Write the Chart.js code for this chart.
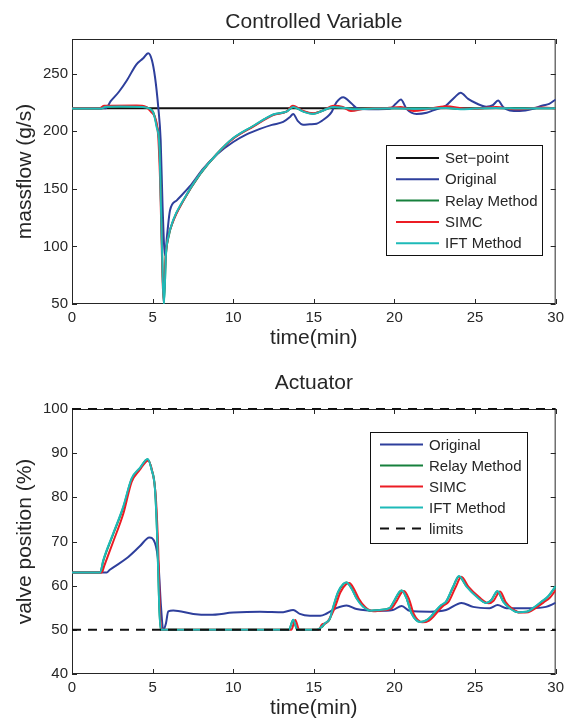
<!DOCTYPE html>
<html>
<head>
<meta charset="utf-8">
<script src="https://cdn.jsdelivr.net/npm/chart.js@4.4.1/dist/chart.umd.min.js"></script>
<style>
  html, body { margin: 0; padding: 0; background: #fff; }
  canvas { display: block; }
</style>
</head>
<body>
<canvas id="cv" width="569" height="360"></canvas>
<canvas id="mv" width="569" height="359"></canvas>
<script>
// ---- data (time in minutes) ----
const xTicks = [0, 5, 10, 15, 20, 25, 30];
const yTicksCV = [50, 100, 150, 200, 250];
const yTicksMV = [40, 50, 60, 70, 80, 90, 100];

// Controlled variable (massflow, g/s)
const tSetCV = [0, 30];
const setPointCV = [220, 220];

const tOrigCV = [0, 2.1, 2.4, 2.9, 3.4, 4.0, 4.4, 4.73, 4.95, 5.15, 5.35, 5.5, 5.62, 5.77, 5.9, 6.08, 6.5, 7.3, 8.14, 9.0, 10.0, 10.8, 11.66, 12.4, 13.1, 13.5, 13.72, 14.0, 14.34, 14.75, 15.17, 15.5, 15.8, 16.1, 16.4, 16.82, 17.34, 17.75, 18.7, 19.7, 20.1, 20.4, 20.75, 21.37, 22.0, 22.4, 23.2, 23.74, 24.1, 24.57, 25.1, 25.7, 26.1, 26.43, 26.74, 27.15, 27.77, 28.6, 29.2, 29.6, 30];
const origCV = [220, 220, 226, 234, 244, 258, 263, 267.6, 262, 246.8, 220.8, 192, 134, 92, 110, 131.4, 140, 152, 167.5, 180, 190.6, 197, 202, 205.5, 208, 212, 215, 209, 205.6, 206, 206.5, 209, 212, 216.5, 225, 229.5, 224, 219.4, 219, 219.4, 224, 227.5, 219.4, 215, 216, 218, 222.3, 229.5, 233.3, 228, 224, 221.3, 222.5, 226.6, 221, 218, 217.5, 219.4, 222.3, 223.7, 227.5];

const tIftCV = [0, 1.8, 2.1, 3.0, 4.4, 4.8, 5.04, 5.25, 5.42, 5.52, 5.62, 5.7, 5.83, 5.97, 6.28, 6.9, 7.94, 8.97, 10.0, 11.24, 12.48, 13.3, 13.72, 14.34, 14.96, 15.58, 16.2, 16.8, 17.6, 18.5, 20.0, 21.0, 22.0, 23.2, 24.1, 25.0, 26.3, 28.0, 29.2, 30];
const iftCV = [219.6, 219.6, 221.3, 221.5, 221, 219.5, 216, 203.5, 186, 134, 76, 49, 94, 108, 123, 140, 163, 180, 194, 204.5, 214.5, 217, 221, 217, 215, 218, 221, 220.4, 219, 219.5, 220, 219.5, 219.5, 220.2, 219, 219.6, 220.2, 219.6, 220, 220];
const relayCV = [219.6, 219.6, 221.2, 221.4, 221, 219.6, 216.5, 205, 188, 138, 78, 51, 93, 107, 122.5, 139.5, 162.5, 180, 193.8, 204.3, 214.3, 217, 220.8, 217.2, 215.2, 218, 220.8, 220.2, 219.2, 219.6, 220, 219.6, 219.6, 220.3, 219.2, 219.7, 220.1, 219.7, 220, 220];

const tSimcCV = [0, 1.7, 2.0, 4.0, 4.6, 4.95, 5.15, 5.35, 5.48, 5.6, 5.68, 5.8, 5.95, 6.28, 6.9, 7.94, 8.97, 10.0, 11.24, 12.48, 13.3, 13.7, 14.34, 14.96, 15.58, 16.2, 16.8, 17.3, 18.2, 19.5, 20.4, 21.2, 22.0, 23.2, 24.5, 25.5, 26.3, 27.5, 29.2, 30];
const simcCV = [220, 220, 222, 222.2, 221, 216, 212, 195, 150, 80, 52, 90, 107, 122, 139.5, 163, 180, 193.5, 204, 214, 217, 222, 217.5, 215.5, 218, 222, 221, 217.5, 219.5, 220, 221, 217.5, 219, 221.7, 219.5, 220, 221, 219, 220.5, 220];

// Actuator (valve position, %)
const tOrigMV = [0, 2.15, 2.35, 3.39, 4.2, 4.8, 5.15, 5.36, 5.52, 5.66, 5.83, 5.97, 6.28, 7.52, 8.55, 10.0, 11.66, 13.1, 13.72, 14.13, 14.75, 15.4, 15.8, 16.4, 17.03, 17.65, 18.9, 19.9, 20.45, 20.95, 22.2, 23.2, 24.16, 24.88, 25.9, 26.4, 26.95, 28.4, 29.4, 30];
const origMV = [63, 63, 63.6, 66.2, 68.9, 70.9, 69.6, 65.1, 55.3, 50, 51.5, 54.2, 54.4, 53.6, 53.4, 53.9, 54.1, 54, 54.5, 53.6, 53.2, 53.2, 53.7, 54.9, 55.5, 54.7, 54.3, 54.5, 55.4, 54.3, 54.1, 54.5, 56.1, 55.2, 54.9, 55.6, 54.9, 54.9, 55.2, 56.1];

const tIftMV = [0, 1.75, 1.94, 2.56, 3.18, 3.7, 4.2, 4.69, 4.94, 5.15, 5.29, 5.41, 5.5, 13.45, 13.72, 13.98, 15.17, 15.48, 15.69, 16.0, 16.2, 16.5, 16.82, 17.03, 17.34, 17.65, 18.06, 18.58, 19.1, 19.7, 20.0, 20.3, 20.45, 20.75, 21.06, 21.6, 22.0, 22.3, 22.6, 22.9, 23.2, 23.64, 24.0, 24.47, 25.1, 25.7, 26.0, 26.39, 26.74, 27.15, 27.67, 28.2, 28.7, 29.12, 29.5, 30];
const iftMV = [63, 63, 65.8, 71.9, 77.9, 84.3, 86.6, 88.7, 86.2, 81.7, 70.4, 55.3, 50, 50, 52.3, 50, 50, 50.7, 51.5, 52.6, 55.2, 58.6, 60.4, 60.7, 59.3, 57.1, 55.2, 54.3, 54.5, 54.9, 56.7, 58.6, 58.9, 57.1, 53.7, 51.8, 52.2, 53.2, 54.5, 55.6, 56.4, 59.8, 62.2, 59.8, 57.5, 56.1, 56.7, 58.8, 56.4, 54.9, 54.0, 54.1, 55.2, 56.4, 57.5, 59.9];
const relayMV = [63, 63, 65.6, 71.7, 77.7, 84.1, 86.5, 88.6, 86.3, 81.9, 70.8, 55.6, 50, 50, 52.2, 50, 50, 50.6, 51.4, 52.5, 55.0, 58.4, 60.3, 60.7, 59.4, 57.2, 55.3, 54.3, 54.5, 54.9, 56.6, 58.5, 58.9, 57.2, 53.8, 51.8, 52.2, 53.1, 54.4, 55.5, 56.3, 59.7, 62.1, 59.9, 57.6, 56.1, 56.7, 58.7, 56.5, 55.0, 54.0, 54.1, 55.1, 56.3, 57.4, 59.8];

const tSimcMV = [0, 1.85, 2.0, 2.56, 3.2, 3.7, 4.2, 4.72, 4.97, 5.2, 5.35, 5.45, 5.53, 13.6, 13.85, 14.1, 15.3, 15.5, 15.75, 15.95, 16.3, 16.65, 17.0, 17.2, 17.5, 17.8, 18.2, 18.7, 19.2, 19.8, 20.15, 20.45, 20.6, 20.9, 21.2, 21.75, 22.15, 22.45, 22.75, 23.05, 23.35, 23.8, 24.15, 24.6, 25.25, 25.85, 26.15, 26.55, 26.9, 27.3, 27.8, 28.3, 28.8, 29.25, 29.65, 30];
const simcMV = [63, 63, 64.5, 70, 76.5, 83.5, 86.2, 88.3, 86, 80, 68, 55, 50, 50, 52.2, 50, 50, 51.2, 51.5, 52.4, 55.0, 58.5, 60.3, 60.6, 59.2, 57.0, 55.1, 54.2, 54.4, 54.8, 56.6, 58.5, 58.8, 57.0, 53.6, 51.7, 52.1, 53.1, 54.4, 55.5, 56.3, 59.7, 62.0, 59.7, 57.4, 56.0, 56.6, 58.7, 56.3, 54.8, 53.9, 54.0, 55.0, 56.2, 57.3, 59.0];

const tLimits = [0, 30];
const lowLimit = [50, 50];
const highLimit = [100, 100];

// ---- styling ----
const FONT = '"Liberation Sans", Arial, Helvetica, sans-serif';
const INK = '#262626';
const C_BLACK = '#111111';
const C_BLUE = '#2e3f9c';
const C_GREEN = '#16803c';
const C_RED = '#ec1c24';
const C_CYAN = '#1ebab8';

Chart.defaults.font.family = FONT;
Chart.defaults.color = INK;

function serie(label, t, v, color, order, dash) {
  return {
    label,
    data: t.map((x, i) => ({ x, y: v[i] })),
    borderColor: color,
    backgroundColor: color,
    borderWidth: 2,
    borderDash: dash || [],
    pointRadius: 0,
    cubicInterpolationMode: 'monotone',
    fill: false,
    clip: dash ? 3 : undefined, // dashed limit lines sit on the box edge, don't cut them in half
    order
  };
}

// MATLAB look: box with inward ticks under the lines, title above axes, legend box inside axes
const matlabBox = {
  id: 'matlabBox',
  beforeDatasetsDraw(chart) {
    const { ctx, chartArea: a, scales: { x, y } } = chart;
    ctx.save();
    ctx.strokeStyle = INK;
    ctx.lineWidth = 1;
    ctx.strokeRect(a.left + 0.5, a.top + 0.5, a.right - a.left - 1, a.bottom - a.top - 1);
    ctx.beginPath();
    x.ticks.forEach(t => {
      const px = Math.round(x.getPixelForValue(t.value)) + 0.5;
      ctx.moveTo(px, a.bottom); ctx.lineTo(px, a.bottom - 5);
      ctx.moveTo(px, a.top); ctx.lineTo(px, a.top + 5);
    });
    y.ticks.forEach(t => {
      const py = Math.round(y.getPixelForValue(t.value)) + 0.5;
      ctx.moveTo(a.left, py); ctx.lineTo(a.left + 5, py);
      ctx.moveTo(a.right, py); ctx.lineTo(a.right - 5, py);
    });
    ctx.stroke();
    ctx.restore();
  },
  afterDraw(chart, args, opts) {
    const { ctx, chartArea: a } = chart;
    ctx.save();
    ctx.fillStyle = INK;
    ctx.font = '21px ' + FONT;
    ctx.textAlign = 'center';
    ctx.textBaseline = 'alphabetic';
    ctx.fillText(opts.title, (a.left + a.right) / 2, opts.titleY);

    const L = opts.legend;
    ctx.fillStyle = '#fff';
    ctx.fillRect(L.x, L.y, L.w, L.h);
    ctx.strokeStyle = C_BLACK;
    ctx.lineWidth = 1;
    ctx.strokeRect(L.x + 0.5, L.y + 0.5, L.w, L.h);
    ctx.font = '15px ' + FONT;
    ctx.textAlign = 'left';
    ctx.textBaseline = 'middle';
    L.items.forEach((di, i) => {
      const ds = chart.data.datasets[di];
      const ry = L.row0 + i * L.step;
      ctx.strokeStyle = ds.borderColor;
      ctx.lineWidth = 2;
      ctx.setLineDash(ds.borderDash.length ? [9, 7] : []);
      ctx.beginPath();
      ctx.moveTo(L.x0, ry); ctx.lineTo(L.x1, ry);
      ctx.stroke();
      ctx.setLineDash([]);
      ctx.fillStyle = INK;
      ctx.fillText(ds.label, L.tx, ry + 1);
    });
    ctx.restore();
  }
};

function makeScales(yMin, yMax, yTicks, yTitle, xHeight, xTitlePad) {
  return {
    x: {
      type: 'linear', min: 0, max: 30,
      afterBuildTicks: s => { s.ticks = xTicks.map(v => ({ value: v })); },
      afterFit: s => { s.height = xHeight; },
      grid: { display: false, drawTicks: false },
      border: { display: false },
      ticks: { padding: 5, color: INK, font: { size: 15 } },
      title: { display: true, text: 'time(min)', color: INK, font: { size: 21, lineHeight: 1 }, padding: { top: 0, bottom: xTitlePad } }
    },
    y: {
      type: 'linear', min: yMin, max: yMax,
      afterBuildTicks: s => { s.ticks = yTicks.map(v => ({ value: v })); },
      afterFit: s => { s.width = 72; },
      grid: { display: false, drawTicks: false },
      border: { display: false },
      ticks: { padding: 4, color: INK, font: { size: 15 } },
      title: { display: true, text: yTitle, color: INK, font: { size: 21, lineHeight: 1 }, padding: { top: 15, bottom: 0 } }
    }
  };
}

new Chart(document.getElementById('cv'), {
  type: 'line',
  data: {
    datasets: [
      serie('Set\u2212point', tSetCV, setPointCV, C_BLACK, 4),
      serie('Original', tOrigCV, origCV, C_BLUE, 3),
      serie('Relay Method', tIftCV, relayCV, C_GREEN, 2),
      serie('SIMC', tSimcCV, simcCV, C_RED, 1),
      serie('IFT Method', tIftCV, iftCV, C_CYAN, 0)
    ]
  },
  options: {
    responsive: false,
    animation: false,
    layout: { padding: { top: 39, right: 13, left: 0, bottom: 0 } },
    scales: makeScales(50, 280, yTicksCV, 'massflow (g/s)', 56, 11),
    plugins: {
      legend: { display: false },
      tooltip: { enabled: false },
      matlabBox: {
        title: 'Controlled Variable', titleY: 28,
        legend: { x: 386, y: 145, w: 156, h: 110, row0: 158, step: 21.3, x0: 396, x1: 439, tx: 445, items: [0, 1, 2, 3, 4] }
      }
    }
  },
  plugins: [matlabBox]
});

new Chart(document.getElementById('mv'), {
  type: 'line',
  data: {
    datasets: [
      serie('Original', tOrigMV, origMV, C_BLUE, 3),
      serie('Relay Method', tIftMV, relayMV, C_GREEN, 2),
      serie('SIMC', tSimcMV, simcMV, C_RED, 1),
      serie('IFT Method', tIftMV, iftMV, C_CYAN, 0),
      serie('limits', tLimits, lowLimit, C_BLACK, -1, [9, 7]),
      serie('limits', tLimits, highLimit, C_BLACK, -1, [9, 7])
    ]
  },
  options: {
    responsive: false,
    animation: false,
    layout: { padding: { top: 49, right: 13, left: 0, bottom: 0 } },
    scales: makeScales(40, 100, yTicksMV, 'valve position (%)', 45, 0),
    plugins: {
      legend: { display: false },
      tooltip: { enabled: false },
      matlabBox: {
        title: 'Actuator', titleY: 29,
        legend: { x: 370, y: 72, w: 157, h: 111, row0: 84.5, step: 21, x0: 380, x1: 423, tx: 429, items: [0, 1, 2, 3, 4] }
      }
    }
  },
  plugins: [matlabBox]
});
</script>
</body>
</html>
